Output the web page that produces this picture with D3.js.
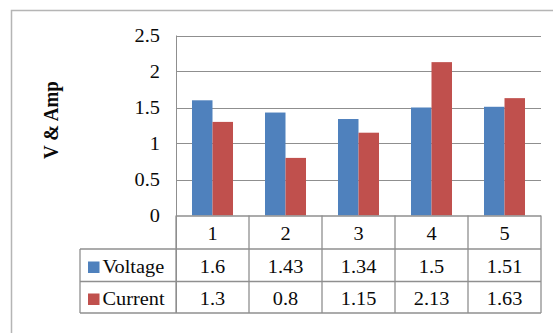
<!DOCTYPE html>
<html>
<head>
<meta charset="utf-8">
<script src="https://cdn.jsdelivr.net/npm/d3@7"></script>
<style>
  html, body { margin: 0; padding: 0; background: #fff; }
  svg { display: block; }
</style>
</head>
<body>
<svg id="chart" width="553" height="333"></svg>
<script>
// Chart data
const categories = ["1", "2", "3", "4", "5"];
const seriesNames = ["Voltage", "Current"];
const voltage = [1.6, 1.43, 1.34, 1.5, 1.51];
const current = [1.3, 0.8, 1.15, 2.13, 1.63];
const yTicks = [0, 0.5, 1, 1.5, 2, 2.5];
const yTickLabels = ["0", "0.5", "1", "1.5", "2", "2.5"];
const colors = ["#4F81BD", "#C0504D"];

const values = [voltage, current];

const svg = d3.select("#chart");

// layout
const plot = { left: 176, right: 541, top: 35.5, bottom: 215.5 };
const tableLeft = 80;
const rowEdges = [215.5, 249, 281.5, 313];
const gridColor = "#8f8f8f";
const sx = 1.13; // horizontal widening of the serif glyphs

// outer chart frame
svg.append("rect")
  .attr("x", 11.5).attr("y", 10.5)
  .attr("width", 700).attr("height", 500)
  .attr("fill", "none").attr("stroke", "#b5b5b5").attr("stroke-width", 1.5);

const x0 = d3.scaleBand().domain(categories).range([plot.left, plot.right]).padding(0);
const x1 = d3.scaleBand().domain(seriesNames).range([0, x0.bandwidth()])
  .paddingInner(0).paddingOuter(0.78);
const y = d3.scaleLinear().domain([0, 2.5]).range([plot.bottom, plot.top]);

// gridlines
svg.append("g").selectAll("line").data(yTicks.slice(1)).join("line")
  .attr("x1", plot.left).attr("x2", plot.right)
  .attr("y1", d => Math.round(y(d)) + 0.5).attr("y2", d => Math.round(y(d)) + 0.5)
  .attr("stroke", gridColor).attr("stroke-width", 1);

// bars
const groups = svg.append("g").selectAll("g").data(categories).join("g")
  .attr("transform", d => `translate(${x0(d)},0)`);
groups.selectAll("rect")
  .data((c, i) => seriesNames.map((s, k) => ({ s, k, v: values[k][i] })))
  .join("rect")
  .attr("x", d => x1(d.s))
  .attr("width", x1.bandwidth())
  .attr("y", d => y(d.v))
  .attr("height", d => y(0) - y(d.v))
  .attr("fill", d => colors[d.k]);

// y axis line
svg.append("line")
  .attr("x1", plot.left + 0.5).attr("x2", plot.left + 0.5)
  .attr("y1", plot.top).attr("y2", rowEdges[3])
  .attr("stroke", gridColor);

function label(sel) {
  return sel.style("font-family", "'Liberation Serif'").style("fill", "#0a0a0a");
}

// y tick labels
svg.append("g").selectAll("text").data(yTicks).join("text")
  .call(label)
  .attr("transform", d => `translate(160,${y(d) + 6}) scale(${sx},1)`)
  .attr("text-anchor", "end")
  .style("font-size", "18px")
  .text((d, i) => yTickLabels[i]);

// axis title
svg.append("text")
  .call(label)
  .attr("transform", "translate(58,120) rotate(-90) scale(1,1.1)")
  .attr("text-anchor", "middle")
  .style("font-size", "19px")
  .style("font-weight", "bold")
  .text("V & Amp");

// data table
const tg = svg.append("g");
// horizontal rules
tg.append("line").attr("x1", plot.left).attr("x2", plot.right)
  .attr("y1", rowEdges[0] + 0.5).attr("y2", rowEdges[0] + 0.5).attr("stroke", gridColor).attr("stroke-width", 1.3);
[1, 2, 3].forEach(r => {
  tg.append("line").attr("x1", tableLeft).attr("x2", plot.right)
    .attr("y1", rowEdges[r]).attr("y2", rowEdges[r])
    .attr("stroke", gridColor).attr("stroke-width", 1.3);
});
// vertical rules
const colEdges = categories.map(c => x0(c)).concat([plot.right]);
colEdges.forEach(xe => {
  tg.append("line").attr("x1", xe).attr("x2", xe)
    .attr("y1", rowEdges[0]).attr("y2", rowEdges[3])
    .attr("stroke", gridColor).attr("stroke-width", 1.3);
});
tg.append("line").attr("x1", tableLeft).attr("x2", tableLeft)
  .attr("y1", rowEdges[1]).attr("y2", rowEdges[3])
  .attr("stroke", gridColor).attr("stroke-width", 1.3);

// category header row
tg.selectAll("text.cat").data(categories).join("text")
  .attr("class", "cat")
  .call(label)
  .attr("transform", d => `translate(${x0(d) + x0.bandwidth() / 2},240) scale(${sx},1)`)
  .attr("text-anchor", "middle")
  .style("font-size", "18px")
  .text(d => d);

// series rows
const rowBase = [273, 305];
seriesNames.forEach((s, k) => {
  tg.append("rect")
    .attr("x", 88).attr("y", rowBase[k] - 11.5)
    .attr("width", 11.5).attr("height", 11.5)
    .attr("fill", colors[k]);
  tg.append("text")
    .call(label)
    .attr("transform", `translate(102.5,${rowBase[k]}) scale(${sx},1)`)
    .style("font-size", "18px")
    .text(s);
  tg.selectAll(`text.v${k}`).data(values[k]).join("text")
    .attr("class", `v${k}`)
    .call(label)
    .attr("transform", (d, i) => `translate(${x0(categories[i]) + x0.bandwidth() / 2},${rowBase[k]}) scale(${sx},1)`)
    .attr("text-anchor", "middle")
    .style("font-size", "18px")
    .text(d => String(d));
});
</script>
</body>
</html>
